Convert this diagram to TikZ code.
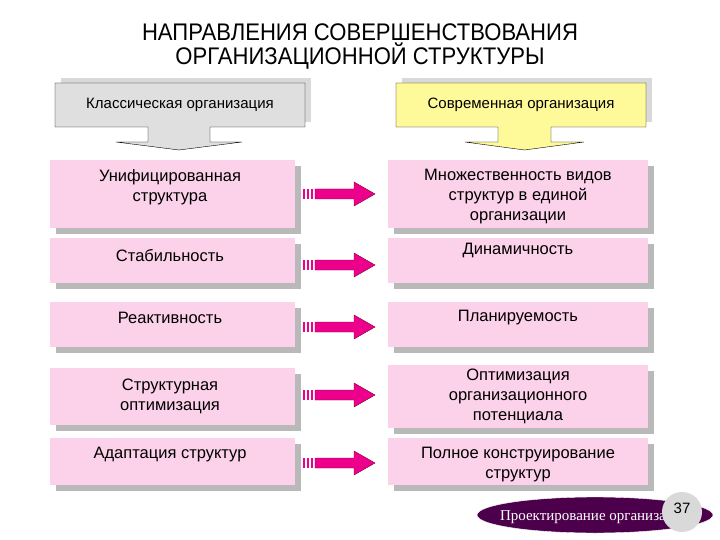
\documentclass[tikz,border=0pt]{standalone}
\usepackage{fontspec}
\setmainfont{Liberation Sans}
\newfontfamily\serifx{Liberation Serif}
\begin{document}
\begin{tikzpicture}[x=1pt,y=-1pt,
  shad/.style={fill=gray!55},
  txt/.style={font=\fontsize{16.5}{20}\selectfont,align=center,text=black}]
\useasboundingbox (0,0) rectangle (720,540);
\fill[white] (0,0) rectangle (720,540);
\node[font=\fontsize{24}{24}\selectfont,align=center,xscale=0.92] (title) at (360,47) {НАПРАВЛЕНИЯ СОВЕРШЕНСТВОВАНИЯ\\ОРГАНИЗАЦИОННОЙ СТРУКТУРЫ};
% headers
\newcommand\hdr[6]{%
  \fill[gray!30] (#1+6,78) rectangle (#2+6,122);
  \draw[fill=#6] (#1,83) -- (#2,83) -- (#2,127) -- (#4,127) -- (#4,142) -- (#5,142) -- ({(#3+#4)/2},150) -- ({2*(#3+#4)/2-#5},142) -- (#3,142) -- (#3,127) -- (#1,127) -- cycle;}
\hdr{55}{305}{148}{210}{242}{gray!25}
\hdr{396}{646}{498}{551}{584}{yellow!40}
\node[txt,font=\fontsize{15}{16}\selectfont] (hl) at (180,105) {Классическая организация};
\node[txt,font=\fontsize{15}{16}\selectfont] (hr) at (521,105) {Современная организация};
% rows
\newcommand\bx[4]{\fill[shad] (#1+6,#3+6) rectangle (#2+6,#4+6); \fill[magenta!18] (#1,#3) rectangle (#2,#4);}
\bx{50}{295}{160}{228}
\bx{388}{648}{160}{228}
\bx{50}{295}{238}{283}
\bx{388}{648}{238}{283}
\bx{50}{295}{302}{347}
\bx{388}{648}{302}{347}
\bx{50}{295}{368}{425}
\bx{388}{648}{365}{428}
\bx{50}{295}{438}{485}
\bx{388}{648}{438}{485}
\node[txt] (l1) at (170,187) {Унифицированная\\структура};
\node[txt] (r1) at (518,197) {Множественность видов\\структур в единой\\организации};
\node[txt] (l2) at (170,256) {Стабильность};
\node[txt] (r2) at (518,250) {Динамичность};
\node[txt] (l3) at (170,318) {Реактивность};
\node[txt] (r3) at (518,318) {Планируемость};
\node[txt] (l4) at (170,396) {Структурная\\оптимизация};
\node[txt] (r4) at (518,396) {Оптимизация\\организационного\\потенциала};
\node[txt] (l5) at (170,455) {Адаптация структур};
\node[txt] (r5) at (518,465) {Полное конструирование\\структур};
% arrows
\newcommand\arr[1]{%
  \foreach \xx in {303,307,311}{\fill[magenta] (\xx,#1-5) rectangle (\xx+2.2,#1+5);}
  \draw[fill=magenta,draw=purple!70!black] (315,#1-5) -- (354,#1-5) -- (354,#1-12) -- (375,#1) -- (354,#1+12) -- (354,#1+5) -- (315,#1+5) -- cycle;}
\arr{194}\arr{265}\arr{327}\arr{395}\arr{463}
% footer
\fill[violet!60!black,draw=white] (595,515) ellipse (118 and 18);
\node[font=\serifx\fontsize{15}{16}\selectfont,text=white] (ft) at (595,517) {Проектирование организации};
\fill[gray!30] (682,512) circle (20);
\node[font=\fontsize{15}{16}\selectfont] (pg) at (682,508) {37};
\end{tikzpicture}
\end{document}
